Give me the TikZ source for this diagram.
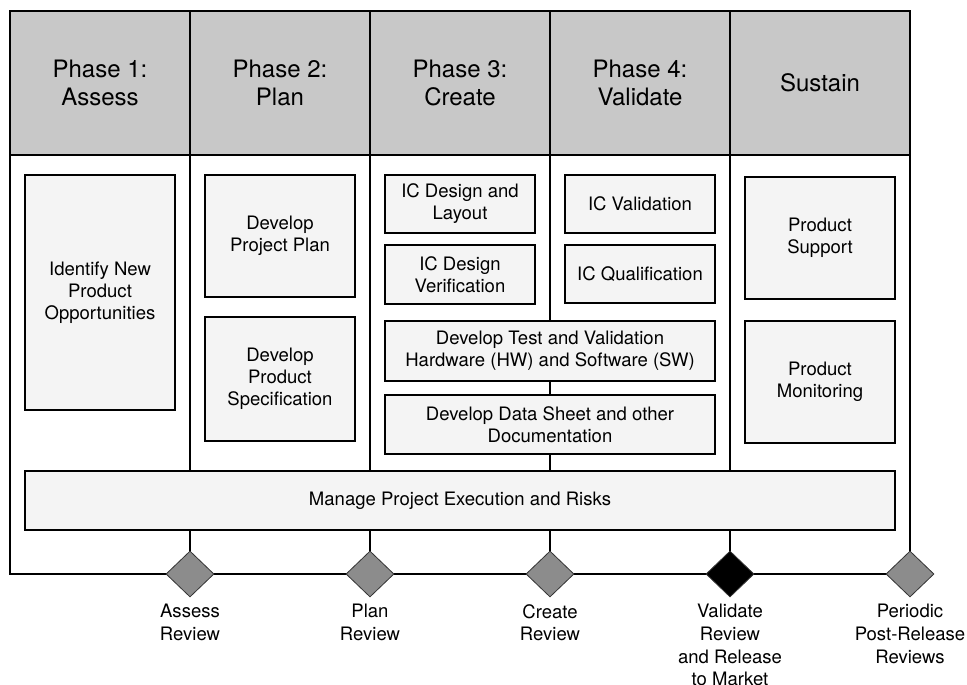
\documentclass[tikz,border=0pt]{standalone}
\usepackage{fontspec}
\setmainfont{TeX Gyre Heros}
\usetikzlibrary{shapes.geometric, positioning}

\definecolor{headgray}{RGB}{200,200,200}
\definecolor{boxgray}{RGB}{244,244,244}
\definecolor{gategray}{RGB}{140,140,140}

\tikzstyle{phase} = [rectangle,
minimum width=135pt,
minimum height=108pt,
outer sep=0pt,
align=center,
draw=black, line width=1.5pt,
fill=headgray,
font=\fontsize{18}{21}\selectfont]
\tikzstyle{lane} = [rectangle,
minimum width=135pt,
minimum height=314.25pt,
outer sep=0pt,
draw=black, line width=1.5pt,
fill=white]
\tikzstyle{task} = [rectangle,
minimum width=112.5pt,
align=center,
draw=black, line width=1.1pt,
fill=boxgray,
font=\fontsize{13.9}{16.5}\selectfont]
\tikzstyle{gate} = [diamond,
minimum width=36pt,
minimum height=34.5pt,
inner sep=0pt,
draw=black!80, line width=0.6pt,
fill=gategray]
\tikzstyle{review} = [align=center,
inner sep=0pt,
font=\fontsize{13.9}{17}\selectfont]

\begin{document}
\begin{tikzpicture}[x=0.75pt, y=-0.75pt, node distance=135pt]
  \useasboundingbox (0,0) rectangle (967,685);

  % phase headers and lanes
  \node (ph1) [phase] at (100,83) {Phase 1:\\Assess};
  \node (ph2) [phase, right of=ph1] {Phase 2:\\Plan};
  \node (ph3) [phase, right of=ph2] {Phase 3:\\Create};
  \node (ph4) [phase, right of=ph3] {Phase 4:\\Validate};
  \node (ph5) [phase, right of=ph4] {Sustain};
  \node (lane1) [lane, below=0pt of ph1] {};
  \node (lane2) [lane, below=0pt of ph2] {};
  \node (lane3) [lane, below=0pt of ph3] {};
  \node (lane4) [lane, below=0pt of ph4] {};
  \node (lane5) [lane, below=0pt of ph5] {};

  % activities
  \node (idea) [task, minimum height=176.25pt] at (100,292.5) {Identify New\\Product\\Opportunities};
  \node (plan) [task, minimum height=91.5pt] at (280,236) {Develop\\Project Plan};
  \node (spec) [task, minimum height=93pt] at (280,379) {Develop\\Product\\Specification};
  \node (layout) [task, minimum height=43.5pt] at (460,204) {IC Design and\\Layout};
  \node (verif) [task, minimum height=44.25pt] at (460,274.5) {IC Design\\Verification};
  \node (valid) [task, minimum height=43.5pt] at (640,204) {IC Validation};
  \node (qual) [task, minimum height=43.5pt] at (640,274) {IC Qualification};
  \node (testhw) [task, minimum width=247.5pt, minimum height=45pt] at (550,351) {Develop Test and Validation\\Hardware (HW) and Software (SW)};
  \node (docs) [task, minimum width=247.5pt, minimum height=44.25pt] at (550,424.5) {Develop Data Sheet and other\\Documentation};
  \node (support) [task, minimum height=91.5pt] at (820,238) {Product\\Support};
  \node (monitor) [task, minimum height=91.5pt] at (820,382) {Product\\Monitoring};
  \node (manage) [task, minimum width=652.5pt, minimum height=44.25pt] at (460,500.5) {Manage Project Execution and Risks};

  % review gates
  \node (g1) [gate] at (lane1.south east) {};
  \node (g2) [gate] at (lane2.south east) {};
  \node (g3) [gate] at (lane3.south east) {};
  \node (g4) [gate, fill=black] at (lane4.south east) {};
  \node (g5) [gate] at (lane5.south east) {};
  \node (r1) [review, below=5pt of g1] {Assess\\Review};
  \node (r2) [review, below=5pt of g2] {Plan\\Review};
  \node (r3) [review, below=5pt of g3] {Create\\Review};
  \node (r4) [review, below=5pt of g4] {Validate\\Review\\and Release\\to Market};
  \node (r5) [review, below=5pt of g5] {Periodic\\Post-Release\\Reviews};
\end{tikzpicture}
\end{document}
